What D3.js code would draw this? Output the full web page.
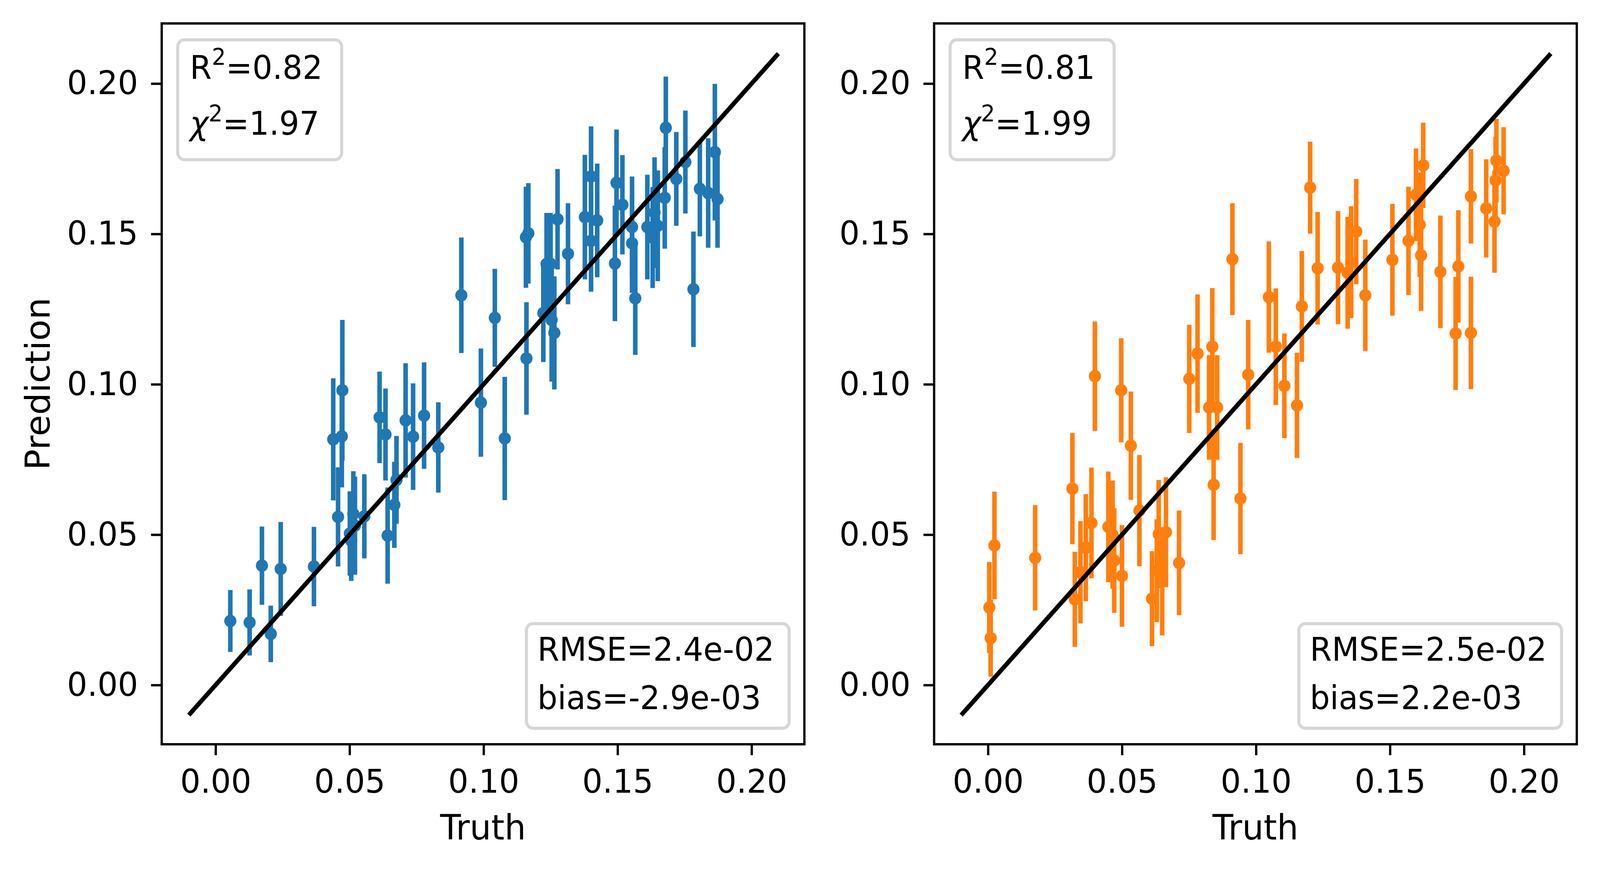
<!DOCTYPE html>
<html>
<head>
<meta charset="utf-8">
<script src="https://cdn.jsdelivr.net/npm/d3@7"></script>
<style>
  html, body { margin: 0; padding: 0; background: #fff; overflow: hidden; }
  text { font-family: "DejaVu Sans", sans-serif; }
</style>
</head>
<body>
<div id="chart"></div>
<script>
const width = 4205, height = 2228;

// left panel: truth, prediction, 1-sigma error
const truthA = [0.0055,0.0127,0.0173,0.0206,0.0243,0.0367,0.0439,0.0457,0.0471,0.0473,0.0501,0.0506,0.0514,0.0520,0.0555,0.0612,0.0634,0.0642,0.0667,0.0675,0.0709,0.0737,0.0778,0.0831,0.0917,0.0990,0.1042,0.1079,0.1160,0.1158,0.1167,0.1223,0.1235,0.1250,0.1254,0.1264,0.1276,0.1315,0.1378,0.1401,0.1401,0.1424,0.1490,0.1496,0.1518,0.1554,0.1554,0.1566,0.1611,0.1631,0.1638,0.1650,0.1680,0.1676,0.1719,0.1753,0.1783,0.1807,0.1838,0.1863,0.1873];
const predA = [0.0213,0.0208,0.0397,0.0170,0.0386,0.0394,0.0817,0.0559,0.0827,0.0980,0.0504,0.0480,0.0569,0.0530,0.0561,0.0890,0.0833,0.0497,0.0599,0.0682,0.0880,0.0826,0.0896,0.0790,0.1296,0.0939,0.1221,0.0820,0.1086,0.1489,0.1502,0.1237,0.1400,0.1400,0.1214,0.1171,0.1549,0.1434,0.1556,0.1691,0.1477,0.1545,0.1402,0.1670,0.1597,0.1523,0.1469,0.1286,0.1523,0.1488,0.1571,0.1527,0.1853,0.1620,0.1683,0.1739,0.1316,0.1650,0.1636,0.1772,0.1616];
const errA = [0.0103,0.0110,0.0130,0.0094,0.0156,0.0132,0.0203,0.0165,0.0170,0.0234,0.0140,0.0134,0.0142,0.0163,0.0140,0.0152,0.0153,0.0160,0.0143,0.0146,0.0190,0.0177,0.0177,0.0150,0.0192,0.0180,0.0163,0.0205,0.0187,0.0168,0.0167,0.0163,0.0170,0.0170,0.0205,0.0188,0.0167,0.0168,0.0207,0.0167,0.0169,0.0189,0.0192,0.0177,0.0165,0.0168,0.0165,0.0188,0.0174,0.0168,0.0184,0.0184,0.0170,0.0169,0.0156,0.0171,0.0192,0.0158,0.0182,0.0227,0.0162];

// right panel
const truthB = [0.0005,0.0010,0.0024,0.0176,0.0315,0.0324,0.0345,0.0365,0.0386,0.0399,0.0449,0.0465,0.0471,0.0497,0.0500,0.0533,0.0565,0.0612,0.0630,0.0637,0.0650,0.0664,0.0713,0.0751,0.0782,0.0825,0.0837,0.0842,0.0855,0.0912,0.0942,0.0971,0.1048,0.1074,0.1106,0.1153,0.1171,0.1202,0.1230,0.1306,0.1342,0.1355,0.1374,0.1408,0.1509,0.1569,0.1597,0.1611,0.1616,0.1624,0.1688,0.1745,0.1755,0.1802,0.1802,0.1859,0.1890,0.1894,0.1897,0.1924];
const predB = [0.0258,0.0156,0.0464,0.0423,0.0653,0.0285,0.0375,0.0457,0.0539,0.1027,0.0526,0.0500,0.0414,0.0980,0.0363,0.0796,0.0580,0.0287,0.0380,0.0502,0.0345,0.0508,0.0406,0.1018,0.1102,0.0923,0.1125,0.0666,0.0923,0.1416,0.0620,0.1032,0.1290,0.1125,0.0995,0.0930,0.1259,0.1654,0.1386,0.1388,0.1371,0.1406,0.1508,0.1296,0.1414,0.1477,0.1630,0.1531,0.1429,0.1728,0.1374,0.1169,0.1392,0.1171,0.1625,0.1585,0.1541,0.1678,0.1744,0.1710];
const errB = [0.0151,0.0128,0.0179,0.0175,0.0185,0.0158,0.0170,0.0178,0.0184,0.0182,0.0184,0.0180,0.0174,0.0173,0.0169,0.0180,0.0185,0.0158,0.0171,0.0180,0.0180,0.0183,0.0174,0.0180,0.0197,0.0174,0.0195,0.0184,0.0174,0.0186,0.0185,0.0182,0.0185,0.0194,0.0174,0.0175,0.0184,0.0153,0.0187,0.0188,0.0186,0.0186,0.0175,0.0185,0.0186,0.0180,0.0154,0.0174,0.0185,0.0142,0.0187,0.0188,0.0187,0.0187,0.0157,0.0163,0.0170,0.0145,0.0139,0.0145];

const tickValues = [0, 0.05, 0.10, 0.15, 0.20];
const diagonal = [-0.01, 0.21];
const r2Labels = ["0.82", "0.81"];
const chi2Labels = ["1.97", "1.99"];
const rmseLabels = ["2.4e-02", "2.5e-02"];
const biasLabels = ["-2.9e-03", "2.2e-03"];
const colors = ["#1f77b4", "#ff7f0e"];

// layout
const panelLeft = [425, 2455], panelTop = 60, panelW = 1689, panelH = 1846;
const tickFont = 84, labelFont = 89, boxFont = 83;

const x = d3.scaleLinear().domain([-0.0201, 0.2197]).range([0, panelW]);
const y = d3.scaleLinear().domain([-0.0197, 0.2200]).range([panelH, 0]);

// fit the drawing to whatever the viewport is
const svg = d3.select("#chart").append("svg")
    .attr("viewBox", `0 0 ${width} ${height}`)
    .attr("preserveAspectRatio", "none")
    .style("width", "100vw")
    .style("height", "100vh")
    .style("display", "block");

svg.append("rect").attr("width", width).attr("height", height).attr("fill", "#fff");

function drawPanel(i, truth, pred, err) {
    const g = svg.append("g").attr("transform", `translate(${panelLeft[i]},${panelTop})`);
    const pts = truth.map((t, k) => ({ t: t, p: pred[k], e: err[k] }));

    // error bars
    g.append("g").selectAll("line")
        .data(pts).enter().append("line")
        .attr("x1", d => x(d.t)).attr("x2", d => x(d.t))
        .attr("y1", d => y(d.p - d.e)).attr("y2", d => y(d.p + d.e))
        .attr("stroke", colors[i])
        .attr("stroke-width", 12);

    // markers
    g.append("g").selectAll("circle")
        .data(pts).enter().append("circle")
        .attr("cx", d => x(d.t)).attr("cy", d => y(d.p))
        .attr("r", 16)
        .attr("fill", colors[i]);

    // 1:1 line
    const line = d3.line().x(d => x(d)).y(d => y(d));
    g.append("path")
        .attr("d", line(diagonal))
        .attr("fill", "none")
        .attr("stroke", "#000")
        .attr("stroke-width", 11.5);

    // axes
    const xAxis = g.append("g")
        .attr("transform", `translate(0,${panelH})`)
        .call(d3.axisBottom(x).tickValues(tickValues).tickFormat(d3.format(".2f")).tickSize(28).tickPadding(36));
    const yAxis = g.append("g")
        .call(d3.axisLeft(y).tickValues(tickValues).tickFormat(d3.format(".2f")).tickSize(28).tickPadding(34));
    [xAxis, yAxis].forEach(a => {
        a.select(".domain").remove();
        a.attr("font-size", tickFont).attr("font-family", "DejaVu Sans");
        a.selectAll(".tick line").attr("stroke-width", 6);
        a.selectAll(".tick text").attr("fill", "#000");
    });

    g.append("rect")
        .attr("width", panelW).attr("height", panelH)
        .attr("fill", "none").attr("stroke", "#000").attr("stroke-width", 6);

    g.append("text")
        .attr("x", panelW / 2).attr("y", 2150 - panelTop)
        .attr("text-anchor", "middle")
        .attr("font-size", labelFont)
        .text("Truth");

    if (i === 0) {
        g.append("text")
            .attr("transform", `translate(${130 - panelLeft[0]},${panelH / 2}) rotate(-90)`)
            .attr("text-anchor", "middle")
            .attr("font-size", labelFont)
            .text("Prediction");
    }

    // upper-left stats box
    const box1 = g.append("g");
    const r1 = box1.append("rect");
    const t1 = box1.append("text").attr("font-size", boxFont);
    const l1 = t1.append("tspan").attr("x", 74).attr("y", 142);
    l1.append("tspan").text("R");
    l1.append("tspan").attr("dy", -36).attr("font-size", boxFont * 0.7).text("2");
    l1.append("tspan").attr("dy", 36).text("=" + r2Labels[i]);
    const t1b = box1.append("text").attr("font-size", boxFont).attr("x", 74).attr("y", 285);
    t1b.append("tspan").attr("font-style", "italic").text("\u03c7");
    t1b.append("tspan").attr("dy", -34).attr("font-size", boxFont * 0.7).text("2");
    t1b.append("tspan").attr("dy", 34).text("=" + chi2Labels[i]);
    const w1 = Math.max(t1.node().getBBox().width, t1b.node().getBBox().width);
    r1.attr("x", 42).attr("y", 42)
        .attr("width", w1 + 32 + 50).attr("height", 307)
        .attr("rx", 18)
        .attr("fill", "#fff").attr("fill-opacity", 0.8)
        .attr("stroke", "#ccc").attr("stroke-opacity", 0.8).attr("stroke-width", 8);

    // lower-right stats box
    const box2 = g.append("g");
    const r2 = box2.append("rect");
    const t2 = box2.append("text").attr("font-size", boxFont).attr("y", 1632).text("RMSE=" + rmseLabels[i]);
    const t2b = box2.append("text").attr("font-size", boxFont).attr("y", 1756).text("bias=" + biasLabels[i]);
    const w2 = Math.max(t2.node().getComputedTextLength(), t2b.node().getComputedTextLength());
    const outerRight = panelW - 36;
    const outerLeft = outerRight - (w2 + 33 + 43);
    t2.attr("x", outerLeft + 33);
    t2b.attr("x", outerLeft + 33);
    r2.attr("x", outerLeft + 4).attr("y", panelH - 37 - 276 + 4)
        .attr("width", outerRight - outerLeft - 8).attr("height", 268)
        .attr("rx", 18)
        .attr("fill", "#fff").attr("fill-opacity", 0.8)
        .attr("stroke", "#ccc").attr("stroke-opacity", 0.8).attr("stroke-width", 8);
}

drawPanel(0, truthA, predA, errA);
drawPanel(1, truthB, predB, errB);
</script>
</body>
</html>
